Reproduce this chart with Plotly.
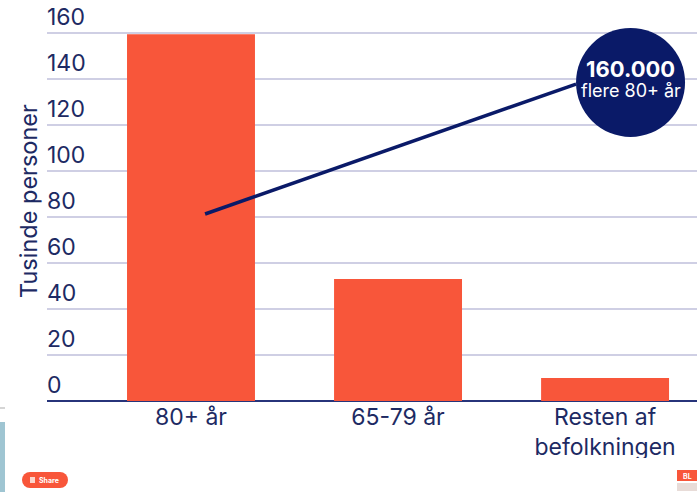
import plotly.graph_objects as go

categories = ["80+ år", "65-79 år", "Resten af<br>befolkningen"]
values = [159.5, 53, 10]
y_ticks = [0, 20, 40, 60, 80, 100, 120, 140, 160]
y_title = "Tusinde personer"
callout_big = "160.000"
callout_small = "flere 80+ år"
line_x = [0.068, 1.86]
line_y = [81.3, 137.8]
circle_x = [2.123]
circle_y = [138.5]

NAVY = "#0a1a68"
TEXT = "#1d2a63"
ORANGE = "#f8563a"
FONT = "Inter"
W, H = 697, 492
L = 44
positions = list(range(len(categories)))
pw, ph = W - L, H - 91
def ax(x): return (x - L) / pw
def ay(y): return (401 - y) / ph

fig = go.Figure()
fig.add_trace(go.Bar(x=positions, y=values, width=0.618, marker=dict(color=ORANGE, line=dict(width=0)), hoverinfo="skip"))
fig.add_trace(go.Scatter(x=line_x, y=line_y, mode="lines", line=dict(color=NAVY, width=3.5), hoverinfo="skip"))
fig.add_trace(go.Scatter(x=circle_x, y=circle_y, mode="markers", marker=dict(color=NAVY, size=109, line=dict(width=0)), hoverinfo="skip"))

fig.update_layout(
    width=W, height=H, showlegend=False, plot_bgcolor="white", paper_bgcolor="white",
    margin=dict(l=L, r=0, t=0, b=91),
    font=dict(family=FONT, color=TEXT, size=23),
    xaxis=dict(range=[-0.710, 2.444], tickvals=positions, ticktext=categories, ticks="", showgrid=False,
               zeroline=False, showline=False, tickfont=dict(size=23, color=TEXT)),
    yaxis=dict(range=[0, 174.35], tickvals=y_ticks, ticks="", showgrid=True, gridcolor="#cfcfe4", gridwidth=2,
               zeroline=True, zerolinecolor="#27347a", zerolinewidth=2, showline=False,
               ticklabelposition="inside top", tickfont=dict(size=23, color=TEXT)),
)

def note(text, x, y, size, color="white", angle=0):
    fig.add_annotation(text=text, x=ax(x), y=ay(y), xref="paper", yref="paper", showarrow=False,
                       xanchor="center", yanchor="middle", textangle=angle,
                       font=dict(size=size, color=color))

note(y_title, 28, 201, 23.5, TEXT, -90)
note(f"<b>{callout_big}</b>", 630.5, 69, 22)
note(callout_small, 630.5, 91, 18)
note("<b>Share</b>", 49, 480, 7)
note("<b>BL</b>", 687, 476, 7)

def box(x0, y0, x1, y1, color, kind="rect"):
    fig.add_shape(type=kind, x0=ax(x0), x1=ax(x1), y0=ay(y0), y1=ay(y1), xref="paper", yref="paper",
                  fillcolor=color, line=dict(width=0), layer="above")

box(0, 458, 697, 492, "white")
box(0, 403, 47, 492, "white")
box(L, 0, 47, 403, "white")
box(0, 422, 5, 492, "#9fc5d2")
box(0, 407, 5, 409, "#d5d5d5")
box(677, 470, 697, 481, ORANGE)
box(677, 483, 697, 491, "#e8dcd8")
box(30, 472, 60, 488, ORANGE)
box(22, 472, 38, 488, ORANGE, "circle")
box(52, 472, 68, 488, ORANGE, "circle")
box(30, 477, 35, 483, "#fbd5cc")

fig.write_html("out.html", config=dict(displayModeBar=False),
               post_script="document.body.style.margin='0';")
